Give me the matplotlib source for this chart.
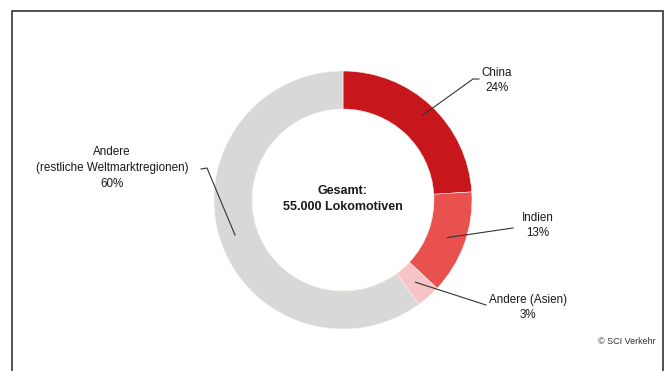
import numpy as np
import matplotlib
matplotlib.use("Agg")
import matplotlib.pyplot as plt
from matplotlib.lines import Line2D
from matplotlib.patches import Rectangle

plt.rcParams["font.family"] = ["Liberation Sans", "DejaVu Sans"]

# data
labels = ["China", "Indien", "Andere (Asien)", "Andere\n(restliche Weltmarktregionen)"]
shares = [24, 13, 3, 60]
colors = ["#c8171c", "#e9514f", "#f6c3c6", "#d8d8d8"]
center_text = "Gesamt:\n55.000 Lokomotiven"
source = "© SCI Verkehr"

W, H = 671, 371
fig = plt.figure(figsize=(W / 100, H / 100), dpi=100)
fig.patch.set_facecolor("white")

# donut placement (pixels, origin top-left)
cx, cy, R = 343, 200, 129
ax = fig.add_axes([(cx - R) / W, (H - cy - R) / H, 2 * R / W, 2 * R / H])

wedges, _ = ax.pie(shares, colors=colors, startangle=90, counterclock=False,
                   radius=1, wedgeprops=dict(width=0.295, edgecolor="#fbf3e6", linewidth=0.4))
ax.set_xlim(-1, 1)
ax.set_ylim(-1, 1)
ax.set_aspect("equal")
ax.axis("off")

ax.text(0, 0.01, center_text, ha="center", va="center", fontsize=9,
        fontweight="bold", linespacing=1.45, color="#1a1a1a")


def px(x, y):
    # top-left pixel -> figure pixel
    return x, H - y


# label layout: text centre, elbow, line end (pixels), radius of anchor
layout = [
    ((497, 80.5), [(473, 79), (479, 79)], 0.9),
    ((538, 225.5), [(513, 228)], 0.86),
    ((528, 307.5), [(486, 305)], 0.85),
    ((112, 168), [(207, 168), (201, 169)], 0.88),
]

pct = [f"{s}%" for s in shares]
for w, lab, p, (tpos, pts, r) in zip(wedges, labels, pct, layout):
    mid = np.deg2rad((w.theta1 + w.theta2) / 2)
    ax_pt = ax.transData.transform((r * np.cos(mid), r * np.sin(mid)))
    xs = [ax_pt[0]] + [px(*q)[0] for q in pts]
    ys = [ax_pt[1]] + [px(*q)[1] for q in pts]
    fig.add_artist(Line2D(xs, ys, transform=None, color="#333333", linewidth=0.8))
    tx, ty = px(*tpos)
    fig.text(tx / W, ty / H, lab + "\n" + p, ha="center", va="center",
             fontsize=8.4, linespacing=1.4, color="#1a1a1a")

fig.text(627 / W, 1 - 341 / H, source, ha="center", va="center", fontsize=6.5,
         color="#333333")

# frame
fig.add_artist(Rectangle((11.7 / W, -0.05), (663 - 11.7) / W, (H - 10.7) / H + 0.05,
                         transform=fig.transFigure, fill=False, edgecolor="#222222",
                         linewidth=1.1))

fig.savefig("out.png", dpi=100)
